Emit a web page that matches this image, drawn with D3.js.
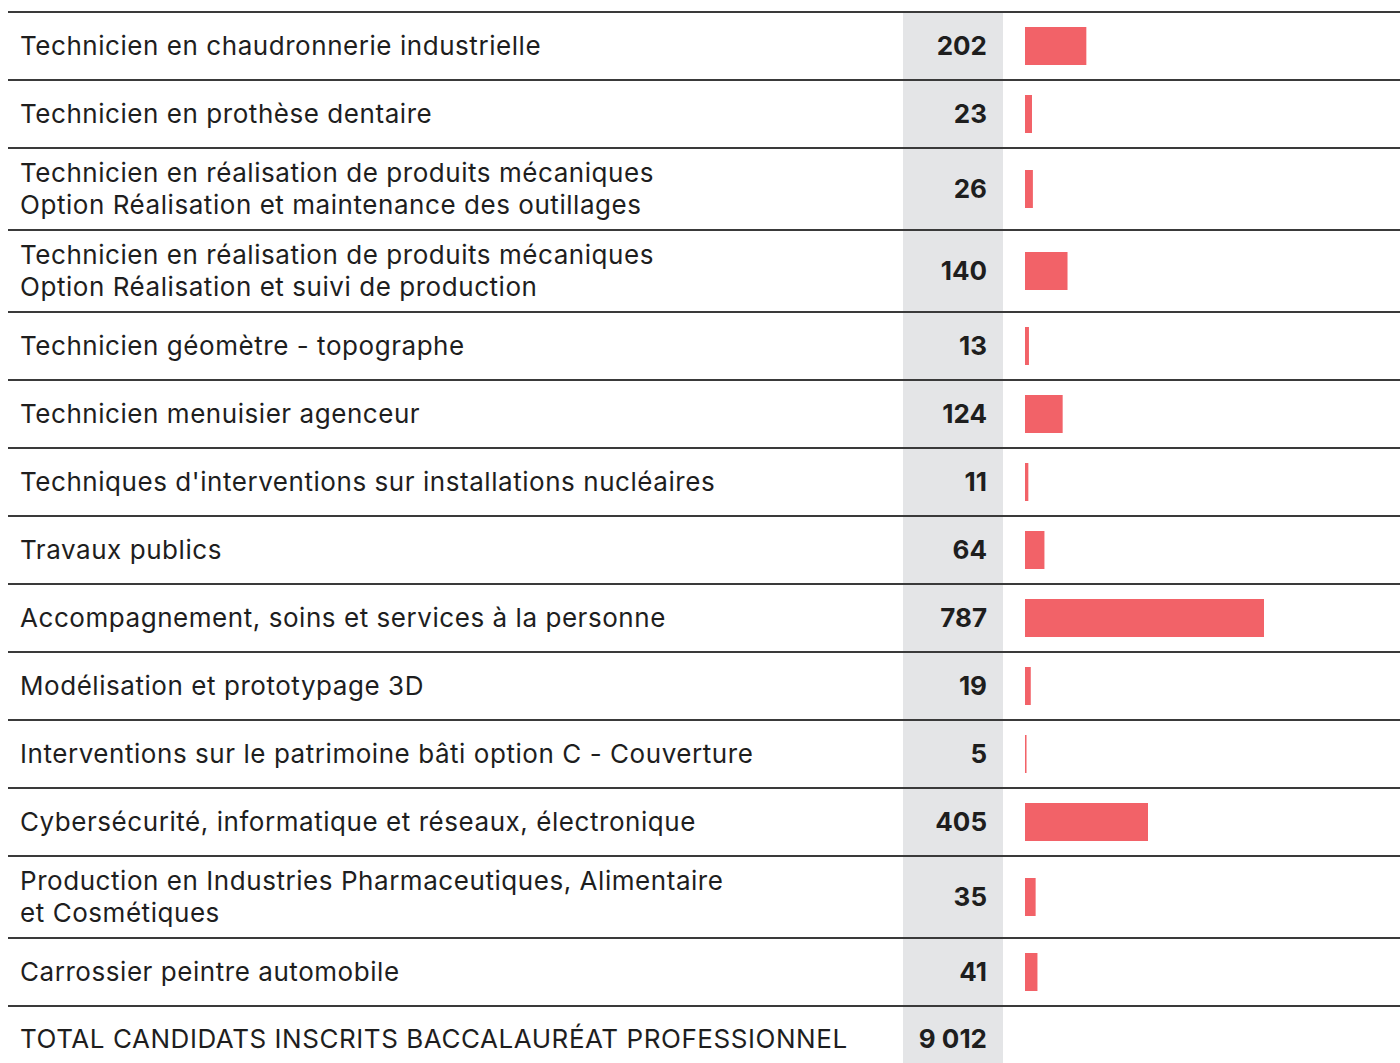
<!DOCTYPE html>
<html><head><meta charset="utf-8">
<script src="https://cdn.jsdelivr.net/npm/d3@7"></script>
<style>
body{margin:0;background:#fff;}
svg{display:block;}
</style></head>
<body>
<svg id="chart" width="1400" height="1063"></svg>
<script>
const categories = [
  ["Technicien en chaudronnerie industrielle"],
  ["Technicien en prothèse dentaire"],
  ["Technicien en réalisation de produits mécaniques", "Option Réalisation et maintenance des outillages"],
  ["Technicien en réalisation de produits mécaniques", "Option Réalisation et suivi de production"],
  ["Technicien géomètre - topographe"],
  ["Technicien menuisier agenceur"],
  ["Techniques d'interventions sur installations nucléaires"],
  ["Travaux publics"],
  ["Accompagnement, soins et services à la personne"],
  ["Modélisation et prototypage 3D"],
  ["Interventions sur le patrimoine bâti option C - Couverture"],
  ["Cybersécurité, informatique et réseaux, électronique"],
  ["Production en Industries Pharmaceutiques, Alimentaire", "et Cosmétiques"],
  ["Carrossier peintre automobile"]
];
const values = [202, 23, 26, 140, 13, 124, 11, 64, 787, 19, 5, 405, 35, 41];
const totalLabel = "TOTAL CANDIDATS INSCRITS BACCALAURÉAT PROFESSIONNEL";
const totalValue = "9 012";

const svg = d3.select("#chart");
const W = 1400, H = 1063;
const top0 = 12, rowH1 = 68, rowH2 = 82, lineGap = 32;
const font = "Inter, 'Noto Sans', sans-serif";
const textColor = "#1e1e1e";

const rows = [];
let y = top0;
categories.forEach((c, i) => {
  const h = c.length > 1 ? rowH2 : rowH1;
  rows.push({lines: c, value: values[i], y0: y, h});
  y += h;
});
const totalY0 = y;

const x = d3.scaleLinear().domain([0, 787]).range([1025, 1264]);

svg.append("rect").attr("x", 903).attr("y", top0).attr("width", 100).attr("height", H - top0).attr("fill", "#e4e5e7");

const seps = rows.map(r => r.y0).concat([totalY0]);
svg.selectAll("line.sep").data(seps).join("line")
  .attr("class","sep")
  .attr("x1", 8).attr("x2", W).attr("y1", d => d).attr("y2", d => d)
  .attr("stroke", "#3a3a3a").attr("stroke-width", 2);

const g = svg.selectAll("g.row").data(rows).join("g").attr("class","row");

g.each(function(d){
  const gg = d3.select(this);
  const cy = d.y0 + d.h/2;
  const n = d.lines.length;
  d.lines.forEach((t, k) => {
    gg.append("text")
      .attr("x", 20)
      .attr("y", cy + (k - (n-1)/2) * lineGap)
      .attr("dy", "0.35em")
      .attr("font-family", font).attr("font-size", 26).attr("letter-spacing", 0.55).attr("fill", textColor)
      .text(t);
  });
  gg.append("text")
    .attr("x", 987).attr("y", cy).attr("dy","0.35em")
    .attr("text-anchor","end")
    .attr("font-family", font).attr("font-weight", 700).attr("font-size", 26).attr("fill", textColor)
    .text(d.value);
  gg.append("rect")
    .attr("x", x(0)).attr("y", cy - 19)
    .attr("width", Math.max(1, x(d.value) - x(0))).attr("height", 38)
    .attr("fill", "#f26268");
});

const tcy = totalY0 + 33;
svg.append("text").attr("x", 20).attr("y", tcy).attr("dy","0.35em")
  .attr("font-family", font).attr("font-size", 26).attr("letter-spacing", 0.55).attr("fill", textColor).text(totalLabel);
svg.append("text").attr("x", 987).attr("y", tcy).attr("dy","0.35em").attr("text-anchor","end")
  .attr("font-family", font).attr("font-weight", 700).attr("font-size", 26).attr("fill", textColor).text(totalValue);
</script>
</body></html>
